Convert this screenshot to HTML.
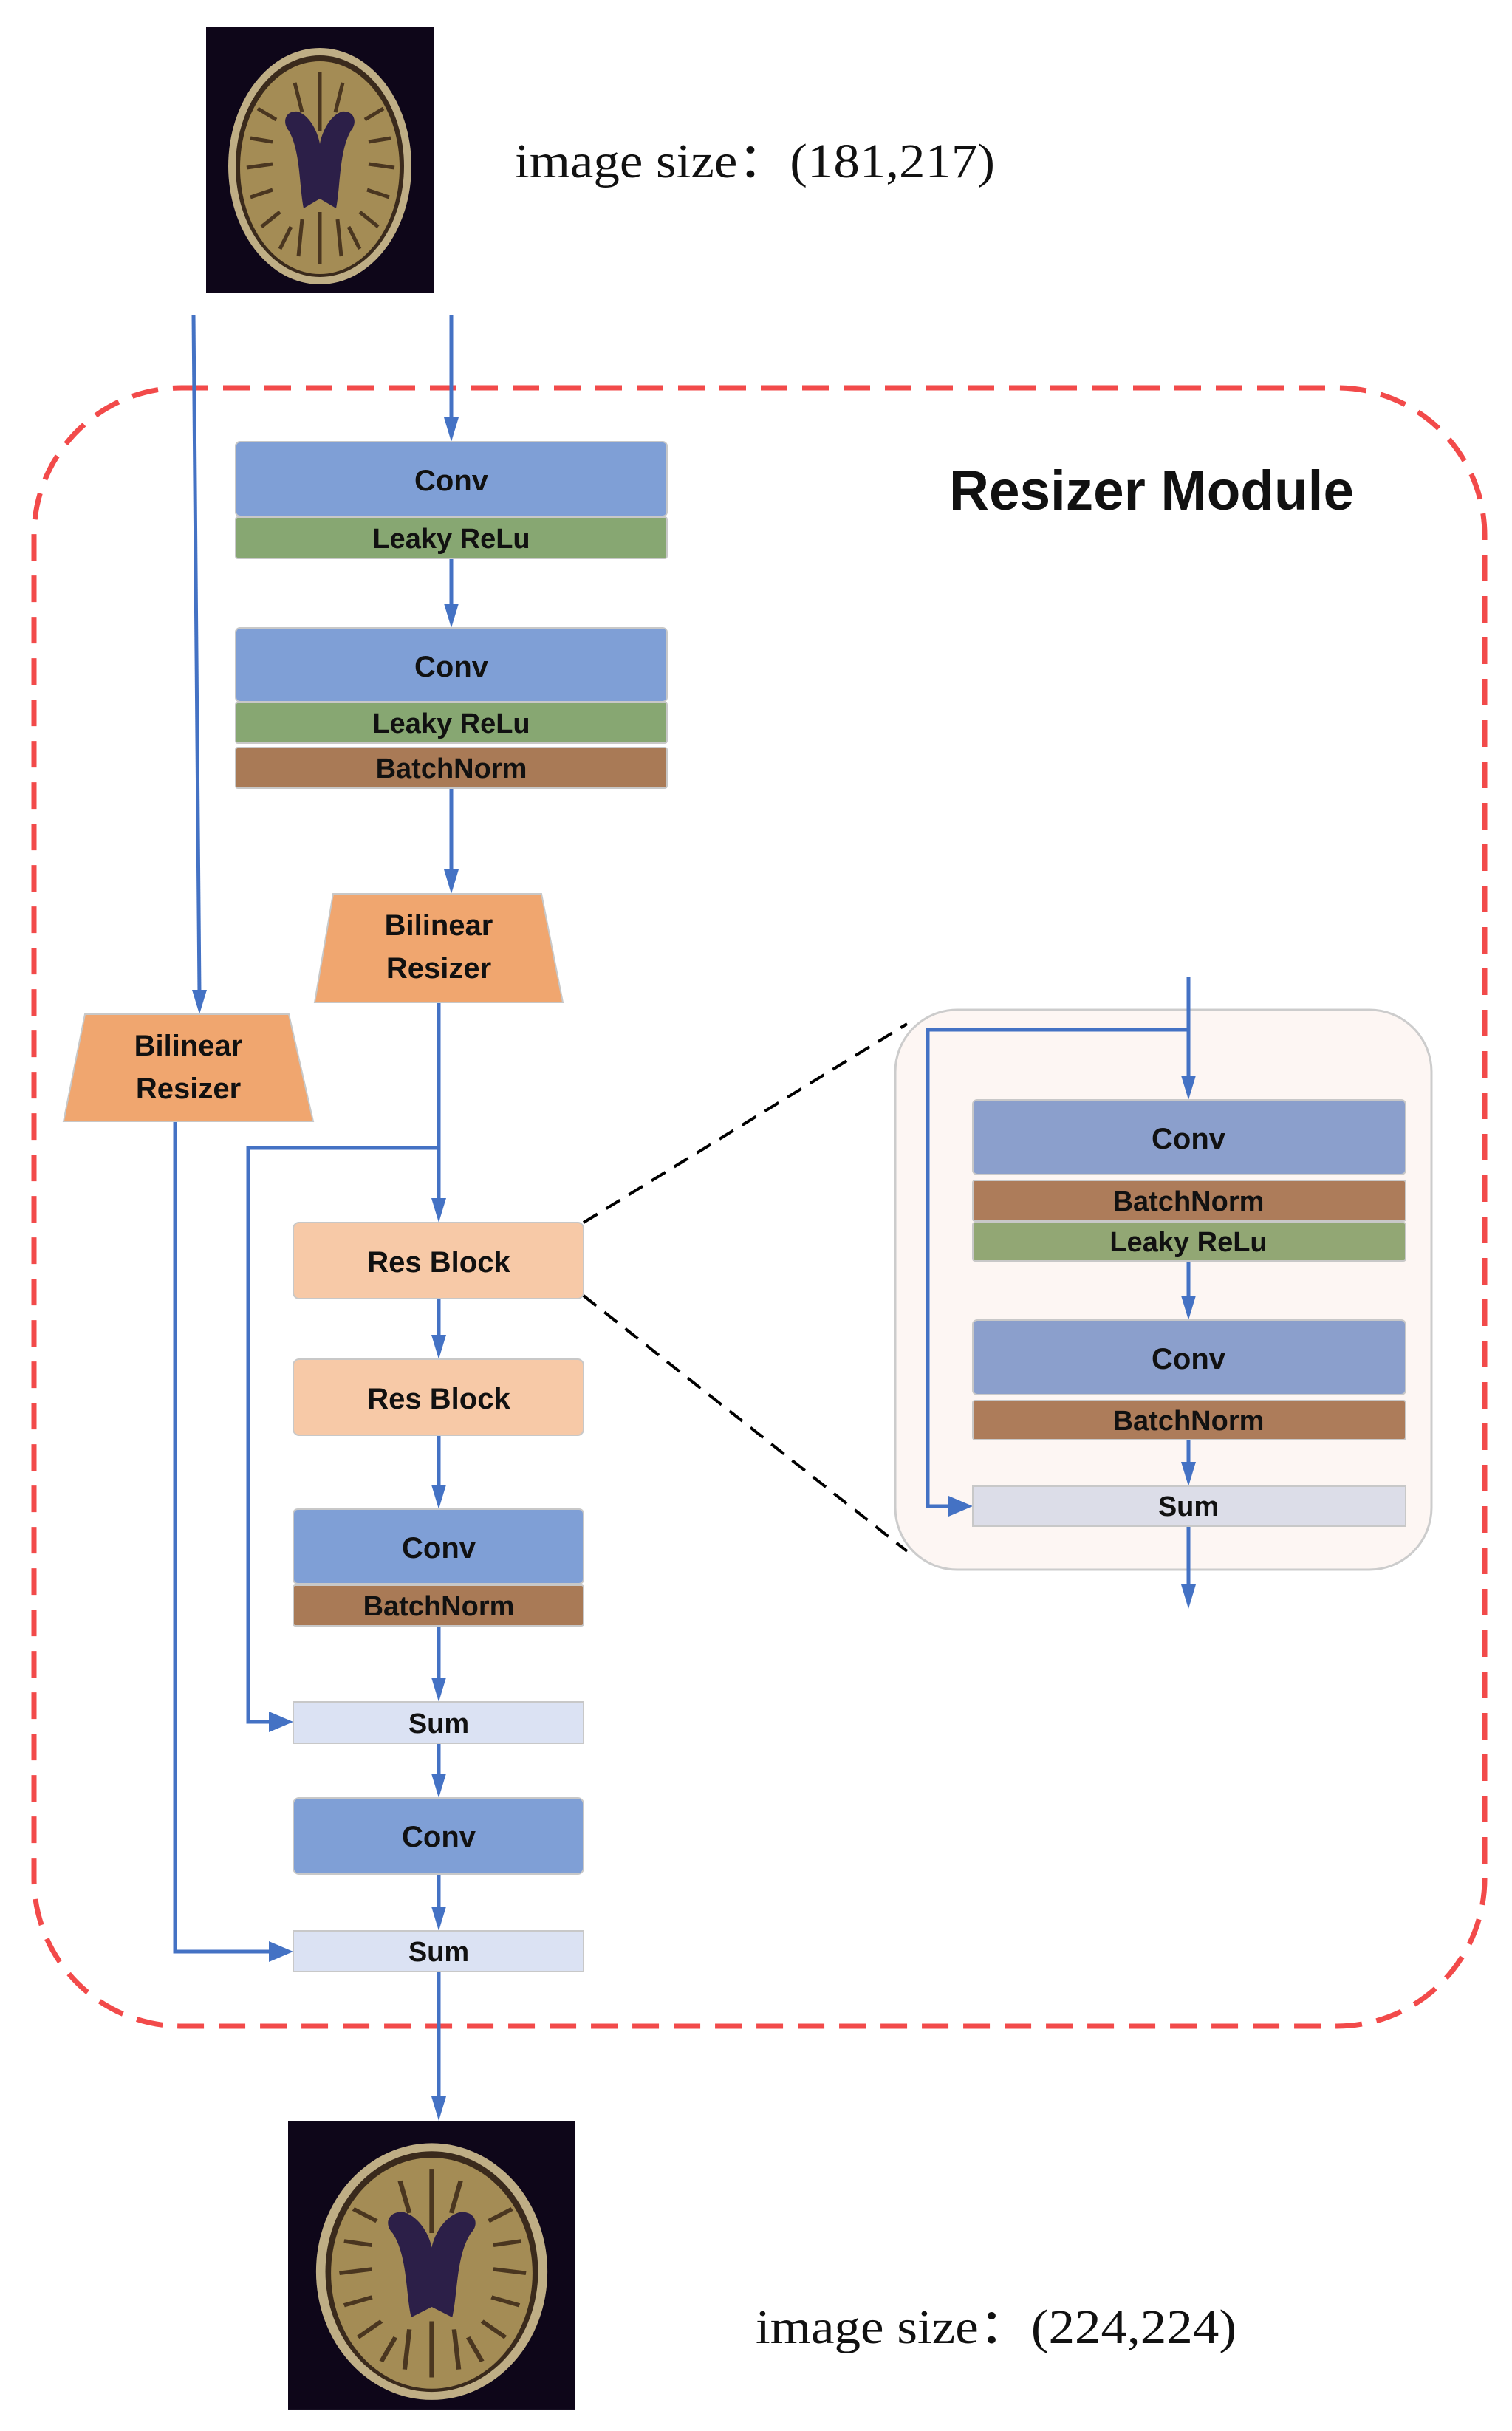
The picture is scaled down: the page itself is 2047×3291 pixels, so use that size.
<!DOCTYPE html>
<html><head><meta charset="utf-8"><style>
html,body{margin:0;padding:0;background:#fff}
svg{display:block}
text{font-family:"Liberation Sans",sans-serif;font-weight:bold;fill:#111}
</style></head><body>
<svg width="2047" height="3291" viewBox="0 0 2047 3291" xmlns="http://www.w3.org/2000/svg">
<defs>
<g id="brain">
<rect x="0" y="0" width="308" height="360" fill="#0e0619"/>
<ellipse cx="154" cy="188" rx="124" ry="160" fill="#bfae85"/>
<ellipse cx="154" cy="188" rx="114" ry="150" fill="#3a2a1c"/>
<ellipse cx="154" cy="190" rx="108" ry="144" fill="#a48c55"/>
<g stroke="#4a3620" stroke-width="5" fill="none">
<path d="M70 110 l25 15 M60 150 l30 5 M55 190 l35 -5 M60 230 l30 -10 M75 270 l25 -20 M100 300 l15 -30 M154 60 l0 80 M120 75 l10 40 M185 75 l-10 40 M240 110 l-25 15 M250 150 l-30 5 M255 190 l-35 -5 M248 230 l-30 -10 M233 270 l-25 -20 M208 300 l-15 -30 M154 250 l0 70 M130 260 l-5 50 M178 260 l5 50"/>
</g>
<path d="M112 140 C102 128 108 112 124 114 C142 120 152 145 154 158 C156 145 166 120 184 114 C200 112 206 128 196 140 C180 168 182 215 176 245 L154 232 L132 245 C126 215 128 168 112 140 Z" fill="#2c1f48"/>
</g>
</defs>

<use href="#brain" x="279" y="37"/>
<text x="697" y="240" textLength="650" lengthAdjust="spacingAndGlyphs" style="font-family:'Liberation Serif',serif;font-weight:normal;font-size:66px">image size：(181,217)</text>

<rect x="46" y="525" width="1964" height="2218" rx="200" ry="200" fill="none" stroke="#f24a4a" stroke-width="7" stroke-dasharray="36,20"/>
<text x="1285" y="690" textLength="548" lengthAdjust="spacingAndGlyphs" style="font-size:76px">Resizer Module</text>

<g stroke="#4472c4" stroke-width="5" fill="none">
<line x1="262" y1="426" x2="270" y2="1345"/>
<line x1="611" y1="426" x2="611" y2="575"/>
<line x1="611" y1="756" x2="611" y2="828"/>
<line x1="611" y1="1067" x2="611" y2="1188"/>
<polyline points="594,1357 594,1632"/>
<polyline points="594,1554 336,1554 336,2331 375,2331"/>
<line x1="594" y1="1758" x2="594" y2="1818"/>
<line x1="594" y1="1943" x2="594" y2="2021"/>
<line x1="594" y1="2201" x2="594" y2="2282"/>
<line x1="594" y1="2360" x2="594" y2="2412"/>
<line x1="594" y1="2537" x2="594" y2="2592"/>
<polyline points="237,1518 237,2642 375,2642"/>
<line x1="594" y1="2669" x2="594" y2="2849"/>
</g>
<g fill="#4472c4">
<polygon points="260,1340 280,1340 270,1373"/>
<polygon points="601,565 621,565 611,598"/>
<polygon points="601,817 621,817 611,850"/>
<polygon points="601,1177 621,1177 611,1210"/>
<polygon points="584,1622 604,1622 594,1655"/>
<polygon points="584,1807 604,1807 594,1840"/>
<polygon points="584,2010 604,2010 594,2043"/>
<polygon points="584,2271 604,2271 594,2304"/>
<polygon points="584,2401 604,2401 594,2434"/>
<polygon points="584,2581 604,2581 594,2614"/>
<polygon points="584,2838 604,2838 594,2871"/>
<polygon points="364,2317 364,2345 397,2331"/>
<polygon points="364,2628 364,2656 397,2642"/>
</g>

<g stroke="#c8c8c8" stroke-width="2">
<rect x="319" y="598" width="584" height="101" rx="6" fill="#7f9fd6"/>
<rect x="319" y="700" width="584" height="56" rx="3" fill="#87a772"/>
<rect x="319" y="850" width="584" height="100" rx="6" fill="#7f9fd6"/>
<rect x="319" y="951" width="584" height="55" rx="3" fill="#87a772"/>
<rect x="319" y="1012" width="584" height="55" rx="3" fill="#a97a56"/>
<polygon points="451,1210 733,1210 762,1357 426,1357" fill="#f0a66f"/>
<polygon points="115,1373 391,1373 424,1518 86,1518" fill="#f0a66f"/>
<rect x="397" y="1655" width="393" height="103" rx="8" fill="#f7c9a7"/>
<rect x="397" y="1840" width="393" height="103" rx="8" fill="#f7c9a7"/>
<rect x="397" y="2043" width="393" height="101" rx="6" fill="#7f9fd6"/>
<rect x="397" y="2146" width="393" height="55" rx="3" fill="#a97a56"/>
<rect x="397" y="2304" width="393" height="56" fill="#dbe2f3"/>
<rect x="397" y="2434" width="393" height="103" rx="8" fill="#7f9fd6"/>
<rect x="397" y="2614" width="393" height="55" fill="#dbe2f3"/>
</g>
<g text-anchor="middle" style="font-size:40px">
<text x="611" y="664">Conv</text>
<text x="611" y="742" style="font-size:38px">Leaky ReLu</text>
<text x="611" y="916">Conv</text>
<text x="611" y="992" style="font-size:38px">Leaky ReLu</text>
<text x="611" y="1053" style="font-size:38px">BatchNorm</text>
<text x="594" y="1266">Bilinear</text>
<text x="594" y="1324">Resizer</text>
<text x="255" y="1429">Bilinear</text>
<text x="255" y="1487">Resizer</text>
<text x="594" y="1722">Res Block</text>
<text x="594" y="1907">Res Block</text>
<text x="594" y="2109">Conv</text>
<text x="594" y="2187" style="font-size:38px">BatchNorm</text>
<text x="594" y="2346" style="font-size:38px">Sum</text>
<text x="594" y="2500">Conv</text>
<text x="594" y="2655" style="font-size:38px">Sum</text>
</g>

<g stroke="#000" stroke-width="4" stroke-dasharray="22,14" fill="none">
<line x1="790" y1="1655" x2="1228" y2="1386"/>
<line x1="790" y1="1754" x2="1228" y2="2100"/>
</g>

<rect x="1212" y="1367" width="726" height="758" rx="84" fill="#fdf6f3" stroke="#cccccc" stroke-width="3"/>
<g stroke="#4472c4" stroke-width="5" fill="none">
<line x1="1609" y1="1323" x2="1609" y2="1467"/>
<polyline points="1609,1394 1256,1394 1256,2039 1295,2039"/>
<line x1="1609" y1="1707" x2="1609" y2="1765"/>
<line x1="1609" y1="1949" x2="1609" y2="1990"/>
<line x1="1609" y1="2066" x2="1609" y2="2156"/>
</g>
<g fill="#4472c4">
<polygon points="1599,1456 1619,1456 1609,1489"/>
<polygon points="1599,1754 1619,1754 1609,1787"/>
<polygon points="1599,1979 1619,1979 1609,2012"/>
<polygon points="1599,2145 1619,2145 1609,2178"/>
<polygon points="1284,2025 1284,2053 1317,2039"/>
</g>
<g stroke="#c8c8c8" stroke-width="2">
<rect x="1317" y="1489" width="586" height="101" rx="6" fill="#8b9fcc"/>
<rect x="1317" y="1598" width="586" height="55" rx="3" fill="#ad7c5a"/>
<rect x="1317" y="1655" width="586" height="52" rx="3" fill="#92a774"/>
<rect x="1317" y="1787" width="586" height="101" rx="6" fill="#8b9fcc"/>
<rect x="1317" y="1896" width="586" height="53" rx="3" fill="#ad7c5a"/>
<rect x="1317" y="2012" width="586" height="54" fill="#dcdde8"/>
</g>
<g text-anchor="middle" style="font-size:40px">
<text x="1609" y="1555">Conv</text>
<text x="1609" y="1639" style="font-size:38px">BatchNorm</text>
<text x="1609" y="1694" style="font-size:38px">Leaky ReLu</text>
<text x="1609" y="1853">Conv</text>
<text x="1609" y="1936" style="font-size:38px">BatchNorm</text>
<text x="1609" y="2052" style="font-size:38px">Sum</text>
</g>

<g transform="translate(390,2871) scale(1.263,1.086)"><use href="#brain"/></g>
<text x="1023" y="3172" textLength="651" lengthAdjust="spacingAndGlyphs" style="font-family:'Liberation Serif',serif;font-weight:normal;font-size:66px">image size：(224,224)</text>
</svg>
</body></html>
